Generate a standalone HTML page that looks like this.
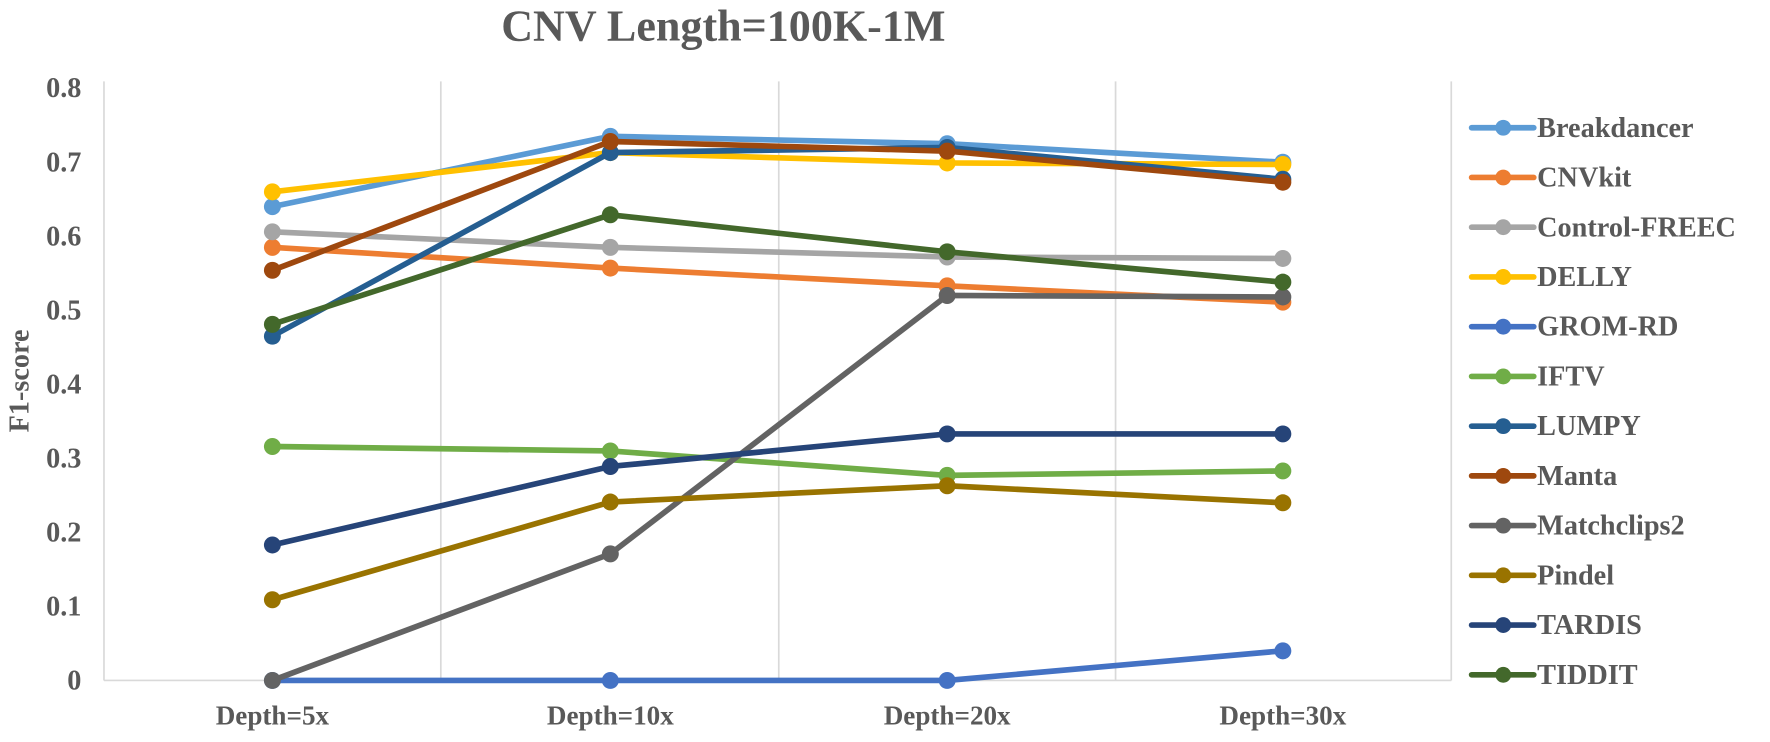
<!DOCTYPE html>
<html><head><style>html,body{margin:0;padding:0;background:#fff}</style></head>
<body>
<svg id="s" width="1770" height="737" viewBox="0 0 1566 652" xmlns="http://www.w3.org/2000/svg" font-family="Liberation Serif, serif" font-weight="bold">
<rect width="1566" height="652" fill="#fff"/>
<text x="640" y="36" text-anchor="middle" font-size="39" fill="#595959">CNV Length=100K-1M</text>
<g stroke="#d9d9d9" stroke-width="1.5">
<line x1="92" y1="72" x2="92" y2="602"/>
<line x1="390" y1="72" x2="390" y2="602"/>
<line x1="689" y1="72" x2="689" y2="602"/>
<line x1="987" y1="72" x2="987" y2="602"/>
<line x1="1284" y1="72" x2="1284" y2="602"/>
<line x1="92" y1="602" x2="1284" y2="602"/>
</g>
<g font-size="25" fill="#595959" text-anchor="end" id="yl"></g>
<g font-size="24" fill="#595959" text-anchor="middle">
<text x="241" y="641">Depth=5x</text>
<text x="540" y="641">Depth=10x</text>
<text x="838" y="641">Depth=20x</text>
<text x="1135" y="641">Depth=30x</text>
</g>
<text transform="translate(25,337) rotate(-90)" text-anchor="middle" font-size="25" fill="#595959">F1-score</text>
<g id="d"></g>
<g id="lg" font-size="25" fill="#595959"></g>
</svg>
<script>
var ns="http://www.w3.org/2000/svg";
function el(t,a,p,txt){var e=document.createElementNS(ns,t);for(var k in a)e.setAttribute(k,a[k]);if(txt)e.textContent=txt;p.appendChild(e);return e;}
var yl=document.getElementById('yl');
for(var i=0;i<=8;i++){el('text',{x:72,y:602-i*65.5+8},yl,i==0?'0':(i/10).toFixed(1));}
var X=[241,540,838,1135];
var S=[
["Breakdancer","#5B9BD5",[0.64,0.735,0.725,0.70]],
["CNVkit","#ED7D31",[0.585,0.557,0.533,0.511]],
["Control-FREEC","#A5A5A5",[0.606,0.585,0.572,0.570]],
["DELLY","#FFC000",[0.66,0.713,0.699,0.697]],
["GROM-RD","#4472C4",[0,0,0,0.04]],
["IFTV","#70AD47",[0.316,0.31,0.277,0.283]],
["LUMPY","#255E91",[0.465,0.713,0.72,0.677]],
["Manta","#9E480E",[0.554,0.728,0.715,0.673]],
["Matchclips2","#636363",[0,0.171,0.52,0.518]],
["Pindel","#997300",[0.109,0.241,0.263,0.24]],
["TARDIS","#264478",[0.183,0.289,0.333,0.333]],
["TIDDIT","#43682B",[0.481,0.629,0.579,0.538]]];
var d=document.getElementById('d'),lg=document.getElementById('lg');
S.forEach(function(s,i){
 var pts=s[2].map(function(v,j){return X[j]+','+(602-v*655);}).join(' ');
 el('polyline',{points:pts,fill:'none',stroke:s[1],'stroke-width':5,'stroke-linejoin':'round'},d);
 s[2].forEach(function(v,j){el('circle',{cx:X[j],cy:602-v*655,r:7.5,fill:s[1]},d);});
 var y=113+i*44;
 el('line',{x1:1302,y1:y,x2:1357,y2:y,stroke:s[1],'stroke-width':5,'stroke-linecap':'round'},lg);
 el('circle',{cx:1330,cy:y,r:7,fill:s[1]},lg);
 el('text',{x:1360,y:y+8},lg,s[0]);
});
</script>
</body></html>
